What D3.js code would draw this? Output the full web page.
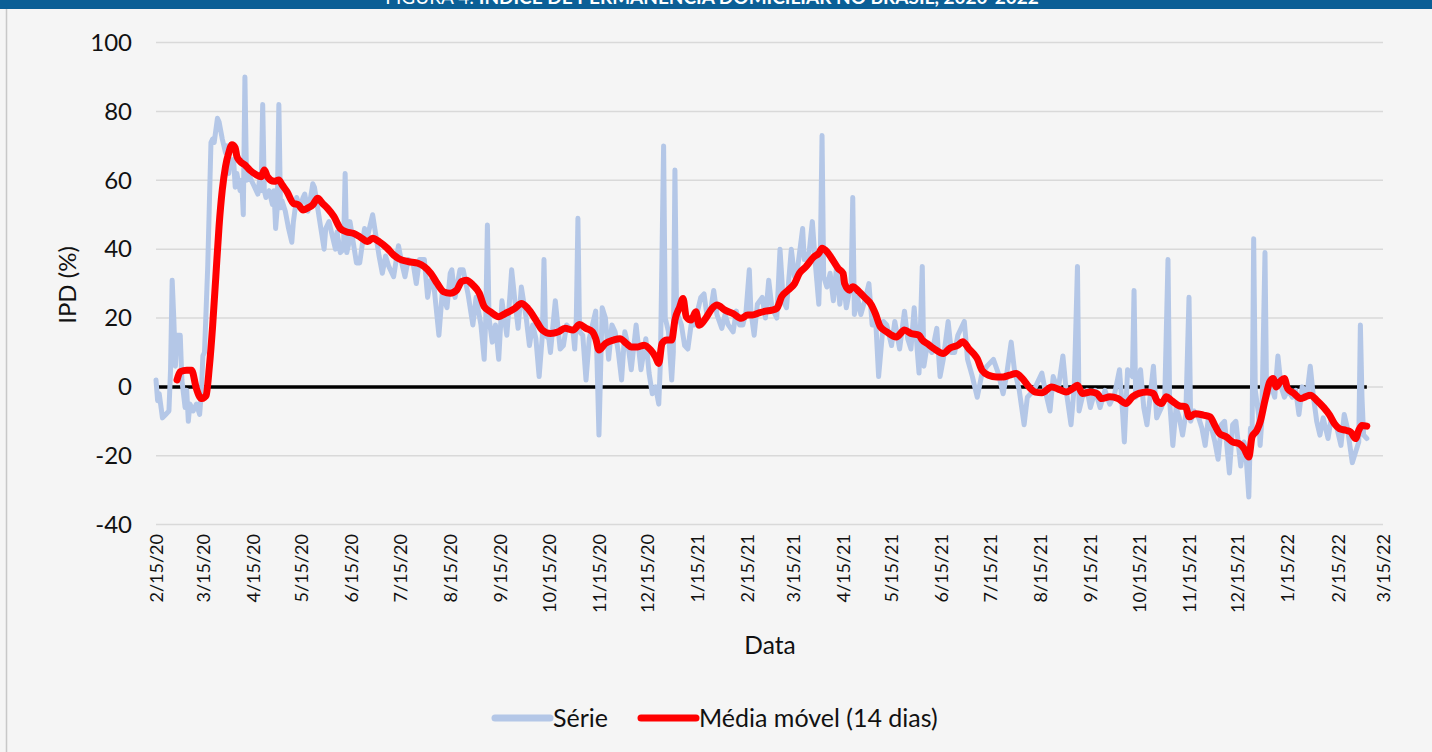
<!DOCTYPE html>
<html>
<head>
<meta charset="utf-8">
<script src="https://cdn.jsdelivr.net/npm/d3@7"></script>
<style>
  body { margin: 0; background: #f5f5f5; }
  svg { display: block; font-family: Lato, "Noto Sans", sans-serif; }
</style>
</head>
<body>
<script>
// dias contados a partir de 15/02/2020
const inicio = new Date(2020, 1, 15);
const fimEixo = new Date(2022, 2, 15);

// IPD diário (dia, valor)
const serie = [
  [0,2],[1,-4],[2,-2],[4,-9],[6,-8],[8,-7],[9,5],[10,31],[11,20],[12,6],[13,15],[15,15],[16,2],[18,-6],[19,-1],[20,-10],
  [21,-5],[23,-7],[25,-5],[27,-8],[28,-2],[29,9],[30,10],[32,35],[34,71],[35,72],[36,71],[38,78],[39,77],[41,72],[43,68],
  [44,70],[45,62],[46,66],[48,66],[49,58],[50,62],[52,57],[53,60],[54,50],[55,90],[56,60],[58,61],[60,59],[62,57],[63,56],
  [64,60],[65,57],[66,82],[67,57],[68,55],[70,57],[72,53],[73,57],[74,46],[75,52],[76,82],[77,52],[78,54],[80,51],[82,46],
  [84,42],[85,48],[87,55],[89,52],[91,55],[92,56],[94,51],[96,56],[97,59],[98,58],[100,52],[102,46],[104,40],[105,46],
  [107,48],[109,44],[111,40],[112,45],[114,39],[116,40],[117,62],[118,39],[119,41],[120,48],[122,42],[124,36],
  [126,36],[129,46],[131,44],[134,50],[136,44],[138,38],[140,33],[142,38],[144,35],[147,32],[150,41],[152,36],[154,32],
  [156,37],[159,36],[161,30],[163,37],[166,37],[168,26],[170,31],[172,29],[175,15],[177,27],[180,23],[182,33],[183,34],
  [185,26],[188,34],[190,34],[193,27],[196,18],[198,26],[201,18],[203,8],[204,20],[205,47],[206,20],[208,13],[210,18],
  [212,8],[214,25],[217,15],[219,27],[220,34],[222,25],[224,17],[226,29],[229,20],[231,12],[233,18],[235,14],[237,3],
  [239,15],[240,37],[241,15],[243,14],[244,10],[247,25],[250,11],[252,12],[254,18],[256,17],[258,16],[259,11],[260,20],
  [261,49],[262,16],[264,15],[266,2],[268,14],[270,18],[272,22],[274,-14],[276,23],[278,20],[280,8],[282,18],[284,16],
  [286,10],[288,2],[290,16],[292,12],[294,5],[297,18],[300,5],[303,14],[305,4],[307,-2],[309,0],[311,-5],[312,7],[314,70],
  [315,20],[317,16],[319,2],[320,10],[321,63],[322,22],[325,18],[327,12],[329,11],[331,18],[333,18],[335,22],[337,26],
  [339,27],[341,20],[343,22],[345,28],[347,21],[350,17],[352,21],[354,18],[357,16],[359,22],[361,18],[363,18],[365,22],
  [367,34],[368,22],[370,15],[372,24],[375,26],[377,20],[379,31],[381,23],[384,20],[386,40],[388,25],[390,23],[393,40],
  [395,32],[397,35],[400,46],[401,37],[404,39],[406,48],[408,35],[410,24],[411,40],[412,73],[413,32],[415,29],[417,33],
  [419,25],[421,35],[423,24],[425,32],[427,23],[429,28],[430,30],[431,55],[432,21],[434,26],[436,21],[439,26],[441,30],
  [443,18],[445,21],[447,3],[450,19],[452,18],[455,12],[457,19],[460,11],[463,22],[465,14],[467,11],[469,23],[471,10],
  [472,4],[474,35],[475,6],[477,12],[480,10],[483,17],[485,3],[487,8],[490,19],[492,10],[494,10],[496,15],[500,19],
  [502,8],[505,3],[508,-3],[511,4],[514,6],[518,8],[521,4],[524,-2],[526,3],[529,13],[531,5],[534,-1],[537,-11],[539,-3],
  [541,-2],[544,0],[548,4],[550,-1],[553,-7],[555,3],[558,-1],[561,9],[563,-1],[566,-11],[568,0],[570,35],[571,-7],
  [573,-3],[576,-1],[578,-6],[581,-1],[584,-6],[587,-1],[590,-5],[593,-2],[596,5],[598,-8],[599,-16],[601,5],[604,3],
  [605,28],[606,-3],[609,5],[611,-6],[613,-11],[617,6],[619,-9],[622,-6],[624,-3],[626,37],[627,-4],[629,-17],[631,-6],
  [633,-9],[635,-14],[637,-8],[639,26],[640,-10],[642,-7],[645,-9],[647,-12],[649,-17],[651,-9],[653,-12],[655,-16],
  [657,-21],[659,-11],[661,-10],[664,-25],[666,-11],[668,-10],[671,-23],[673,-16],[674,-18],[676,-32],[677,-12],
  [678,-15],[679,43],[680,-1],[682,-8],[683,-17],[684,-10],[686,39],[687,-3],[690,0],[692,-3],[694,9],[696,0],[698,-3],
  [700,-1],[703,-3],[705,-1],[707,-8],[709,0],[712,-2],[714,6],[716,-3],[718,-10],[720,-14],[722,-9],[725,-15],[727,-9],
  [730,-11],[733,-17],[735,-8],[737,-12],[740,-22],[742,-19],[744,-16],[745,18],[746,-3],[747,-14],[749,-15]
];

// média móvel de 14 dias (dia, valor)
const media = [
  [13,2],[15,4.4],[19,4.8],[22,4.8],[25,-0.5],[28,-3.4],[30,-3],[31,-2.5],[33,5.8],[35,17.5],[37,32],[39,46.6],[41,57.2],
  [43,64],[45,68],[47,70.3],[49,69.4],[50,67],[52,65.5],[55,64.5],[58,63],[62,61.6],[65,61],[67,63],[69,61],[73,59.7],
  [76,60.1],[78,58.7],[81,56.7],[85,53.3],[88,52.9],[91,51.4],[94,52],[97,52.9],[100,54.8],[103,53.3],[106,51.9],
  [110,49.5],[114,46],[118,45],[122,44.6],[126,43.6],[131,42.2],[134,43.2],[138,42.2],[143,40.3],[147,38.3],[150,37.3],
  [156,36.4],[162,35.9],[166,34.9],[170,33],[174,30],[178,27.6],[182,27.2],[186,28.1],[189,30.6],[192,31],[196,29.6],
  [200,27.2],[203,23.3],[207,21.8],[212,20.4],[216,21.3],[222,22.8],[226,24.2],[230,22.8],[235,19.4],[239,16.5],
  [244,15.5],[249,16],[253,17],[258,16.5],[262,18.1],[266,17],[270,16],[272,14],[274,10.7],[278,12.6],[283,13.6],
  [287,14],[291,12.6],[294,11.6],[298,11.6],[302,12.1],[306,10.7],[309,8.7],[311,6.8],[313,12.6],[316,13.6],[319,13.6],
  [321,19.4],[324,23.3],[326,25.7],[328,20.4],[331,19.4],[334,21.8],[336,17.9],[340,19.9],[344,22.8],[347,23.8],
  [352,22.3],[357,21.3],[362,19.9],[366,20.9],[369,20.9],[373,21.5],[377,22],[381,22.3],[384,22.8],[387,26.2],[391,28.1],
  [395,30],[398,33],[402,34.9],[407,37.8],[410,38.8],[412,40.3],[415,39.3],[418,37.3],[422,34.4],[425,33],[426,30],
  [429,28.1],[431,29.1],[435,27.6],[439,25.7],[442,24.2],[445,21.3],[448,17.5],[452,16],[458,14.5],[463,16.5],
  [467,15.5],[472,15],[474,13.6],[477,12.6],[481,11.2],[487,9.7],[491,11.2],[496,12.1],[499,13.1],[503,11],[506,9.5],
  [508,8.2],[511,4.8],[515,3.4],[520,2.9],[524,2.9],[528,3.4],[532,3.9],[536,2.4],[540,0],[544,-1.5],[548,-1.7],[554,0],
  [559,-0.8],[563,-1.5],[567,-0.5],[570,0.5],[573,-1.9],[578,-1.5],[582,-1.9],[585,-3.4],[590,-2.9],[595,-3.4],
  [600,-4.8],[604,-2.9],[608,-1.9],[613,-1.5],[617,-1.9],[619,-3.9],[622,-4.8],[625,-2.9],[628,-3.9],[633,-5.5],
  [637,-5.8],[639,-8.7],[643,-7.8],[648,-8.2],[652,-8.7],[655,-11.2],[658,-13.6],[662,-14.5],[666,-16],[670,-16.5],
  [673,-17.9],[676,-20.4],[678,-14.5],[681,-12.6],[683,-10.2],[686,-3.9],[689,1.5],[691,2.4],[693,0],[696,1.9],
  [698,2.4],[700,-0.5],[704,-1.9],[708,-3.4],[711,-2.9],[714,-2.4],[718,-3.9],[722,-5.8],[726,-8.2],[729,-10.7],
  [732,-12.1],[736,-12.6],[739,-13.1],[742,-15],[744,-12.6],[746,-11.2],[749,-11.4]
];

const ticksY = [-40, -20, 0, 20, 40, 60, 80, 100];
const ticksX = d3.timeMonth.range(new Date(2020, 1, 1), new Date(2022, 3, 1)).map(d => new Date(d.getFullYear(), d.getMonth(), 15));
const legenda = [
  { nome: 'Série', cor: '#b4c7e7' },
  { nome: 'Média móvel (14 dias)', cor: '#ff0000' }
];

const width = 1432, height = 752;
const svg = d3.select('body').append('svg')
  .attr('width', width)
  .attr('height', height);

// fundo e faixa do título
svg.append('rect').attr('width', width).attr('height', height).attr('fill', '#f5f5f5');
svg.append('line').attr('x1', 6.5).attr('x2', 6.5).attr('y1', 9).attr('y2', height)
  .attr('stroke', '#c8c8c8').attr('stroke-width', 1.5);
svg.append('rect').attr('width', width).attr('height', 9).attr('fill', '#0b5f96');
const titulo = svg.append('text')
  .attr('x', 712).attr('y', 3.5)
  .attr('text-anchor', 'middle')
  .attr('fill', '#fff')
  .style('font-size', '19px');
titulo.append('tspan').text('FIGURA 4: ');
titulo.append('tspan').style('font-weight', 'bold').text('ÍNDICE DE PERMANÊNCIA DOMICILIAR NO BRASIL, 2020-2022');

const x = d3.scaleTime().domain([inicio, fimEixo]).range([156, 1383]);
const y = d3.scaleLinear().domain([-40, 100]).range([524.6, 42.6]);
const dia = d => d3.timeDay.offset(inicio, d);

// grade
svg.append('g').selectAll('line')
  .data(ticksY)
  .enter().append('line')
  .attr('x1', 156).attr('x2', 1383)
  .attr('y1', d => y(d)).attr('y2', d => y(d))
  .attr('stroke', '#d9d9d9').attr('stroke-width', 1.5);

// eixo Y
const eixoY = svg.append('g')
  .attr('transform', 'translate(132,0)')
  .call(d3.axisLeft(y).tickValues(ticksY).tickSize(0).tickPadding(0).tickFormat(d => String(d)));
eixoY.select('.domain').remove();
eixoY.selectAll('text')
  .style('font-family', 'Lato, sans-serif')
  .style('font-size', '24px')
  .attr('fill', '#111');

// eixo X
const eixoX = svg.append('g')
  .attr('transform', 'translate(0,534)')
  .call(d3.axisBottom(x).tickValues(ticksX).tickSize(0).tickFormat(d3.timeFormat('%-m/%-d/%y')));
eixoX.select('.domain').remove();
eixoX.selectAll('text')
  .style('font-family', 'Lato, sans-serif')
  .style('font-size', '18px')
  .attr('fill', '#111')
  .attr('transform', 'rotate(-90)')
  .attr('text-anchor', 'end')
  .attr('x', 0).attr('y', 0).attr('dx', 0).attr('dy', '0.35em');

// títulos dos eixos
svg.append('text')
  .attr('transform', 'translate(76,285) rotate(-90)')
  .attr('text-anchor', 'middle')
  .style('font-size', '24px')
  .attr('fill', '#111')
  .text('IPD (%)');
svg.append('text')
  .attr('x', 770).attr('y', 654)
  .attr('text-anchor', 'middle')
  .style('font-size', '24.5px')
  .attr('fill', '#111')
  .text('Data');

// linha do zero
svg.append('line')
  .attr('x1', x(dia(0))).attr('x2', x(dia(749)))
  .attr('y1', y(0)).attr('y2', y(0))
  .attr('stroke', '#000').attr('stroke-width', 3.5);

const linha = d3.line()
  .x(d => x(dia(d[0])))
  .y(d => y(d[1]));

svg.append('path')
  .datum(serie)
  .attr('d', linha)
  .attr('fill', 'none')
  .attr('stroke', '#b4c7e7')
  .attr('stroke-width', 5)
  .attr('stroke-linejoin', 'round')
  .attr('stroke-linecap', 'round');

svg.append('path')
  .datum(media)
  .attr('d', linha.curve(d3.curveMonotoneX))
  .attr('fill', 'none')
  .attr('stroke', '#ff0000')
  .attr('stroke-width', 7)
  .attr('stroke-linejoin', 'round')
  .attr('stroke-linecap', 'round');

// legenda
const leg = svg.append('g').attr('transform', 'translate(495,718)');
const itens = leg.selectAll('g')
  .data(legenda)
  .enter().append('g')
  .attr('transform', (d, i) => `translate(${i ? 146 : 0},0)`);
itens.append('line')
  .attr('x1', 0).attr('x2', 55)
  .attr('stroke', d => d.cor)
  .attr('stroke-width', 7)
  .attr('stroke-linecap', 'round');
itens.append('text')
  .attr('x', 58).attr('dy', '0.35em')
  .style('font-size', '25px')
  .attr('fill', '#111')
  .text(d => d.nome);
</script>
</body>
</html>
